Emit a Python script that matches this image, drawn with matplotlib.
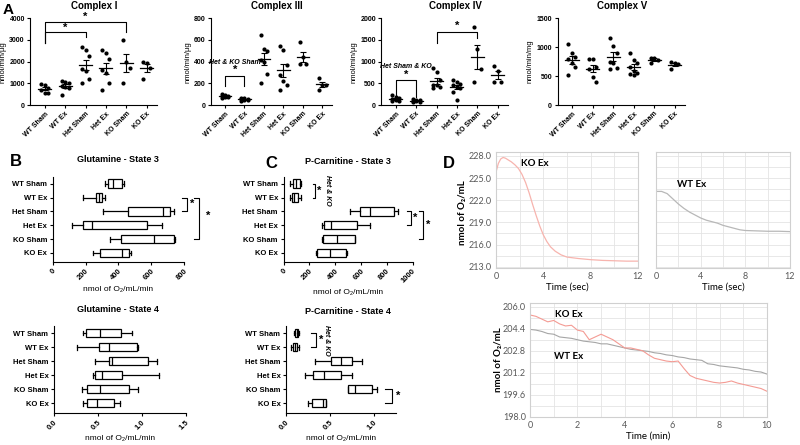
import numpy as np
import matplotlib.pyplot as plt

plt.rcParams['font.family'] = ['Liberation Sans', 'DejaVu Sans']
plt.rcParams['font.weight'] = 'bold'
plt.rcParams['axes.linewidth'] = 0.8

W, H = 800, 445
groups = ['WT Sham', 'WT Ex', 'Het Sham', 'Het Ex', 'KO Sham', 'KO Ex']

# ---- panel A: enzyme activity per animal
complex1 = [[970, 920, 770, 690, 570, 540],
            [1100, 1080, 1000, 880, 850, 770, 460],
            [2690, 2540, 2260, 1650, 1580, 1200, 1030],
            [2540, 2380, 2110, 1620, 1460, 1000, 690],
            [3000, 2000, 1690, 1030],
            [2000, 1950, 1690, 1180]]
complex3 = [[100, 92, 85, 80, 75, 70, 62],
            [68, 62, 58, 55, 50, 45, 40],
            [650, 520, 500, 415, 400, 285, 205],
            [540, 510, 370, 275, 220, 185, 140],
            [580, 445, 375, 375],
            [250, 185, 185, 140]]
complex4 = [[220, 180, 150, 130, 110, 100, 90],
            [140, 120, 110, 100, 90, 80, 75],
            [850, 750, 575, 470, 460, 410, 385],
            [575, 540, 485, 460, 420, 385, 310, 115],
            [1800, 1300, 820, 540],
            [900, 790, 540, 540]]
complex5 = [[1050, 895, 835, 790, 720, 665, 520],
            [790, 790, 665, 620, 490, 405],
            [1165, 1020, 905, 750, 730, 635, 620],
            [905, 770, 730, 665, 595, 560, 535, 520],
            [820, 810, 780, 730],
            [740, 720, 710, 620]]

# ---- panels B/C: box stats [min, q1, median, q3, max]
glut_s3 = [[319, 335, 365, 424, 434], [183, 264, 284, 300, 321],
           [309, 461, 674, 715, 739], [116, 183, 238, 572, 664],
           [349, 414, 619, 741, 745], [248, 288, 420, 467, 475]]
glut_s4 = [[0.33, 0.36, 0.52, 0.76, 0.89], [0.26, 0.51, 0.63, 0.94, 0.96],
           [0.47, 0.63, 0.66, 1.07, 1.17], [0.44, 0.47, 0.54, 0.77, 1.19],
           [0.32, 0.37, 0.52, 0.85, 0.95], [0.33, 0.37, 0.49, 0.68, 0.75]]
pcarn_s3 = [[49, 75, 96, 127, 135], [49, 65, 83, 109, 135],
            [517, 590, 673, 855, 888], [299, 317, 371, 571, 667],
            [299, 309, 415, 551, 558], [252, 257, 364, 486, 491]]
pcarn_s4 = [[0.09, 0.10, 0.12, 0.14, 0.15], [0.06, 0.08, 0.10, 0.13, 0.15],
            [0.33, 0.51, 0.62, 0.75, 0.86], [0.22, 0.31, 0.43, 0.62, 0.75],
            [0.70, 0.71, 0.78, 0.98, 1.03], [0.25, 0.30, 0.42, 0.45, 0.46]]

# ---- panel D: O2 traces
ko_sec = [0, 0.2, 0.4, 0.6, 0.8, 1.0, 1.3, 1.6, 1.9, 2.2, 2.5, 2.8, 3.1, 3.4,
          3.7, 4.0, 4.3, 4.6, 5.0, 5.5, 6.0, 7.0, 8.0, 9.0, 10.0, 11.0, 12.0]
ko_o2 = [225.8, 227.0, 227.6, 227.8, 227.7, 227.5, 227.2, 226.8, 226.3, 225.5,
         224.4, 223.0, 221.4, 219.9, 218.5, 217.3, 216.4, 215.7, 215.1, 214.6,
         214.3, 214.1, 213.95, 213.85, 213.8, 213.75, 213.75]
wt_sec = [0, 0.5, 1.0, 1.5, 2.0, 2.5, 3.0, 3.5, 4.0, 4.5, 5.0, 5.5, 6.0, 6.5,
          7.0, 7.5, 8.0, 9.0, 10.0, 11.0, 12.0]
wt_o2 = [223.2, 223.2, 222.9, 222.2, 221.5, 220.9, 220.4, 220.0, 219.6, 219.3,
         219.1, 218.9, 218.6, 218.4, 218.2, 218.0, 217.9, 217.85, 217.8, 217.8,
         217.75]
mins = [0, 0.25, 0.5, 0.75, 1.0, 1.25, 1.5, 1.75, 2.0, 2.25, 2.5, 2.75, 3.0,
        3.25, 3.5, 3.75, 4.0, 4.25, 4.5, 4.75, 5.0, 5.25, 5.5, 5.75, 6.0, 6.25,
        6.5, 6.75, 7.0, 7.25, 7.5, 7.75, 8.0, 8.25, 8.5, 8.75, 9.0, 9.25, 9.5,
        9.75, 10.0]
ko_min = [205.4, 205.3, 205.1, 204.9, 205.0, 204.75, 204.6, 204.65, 204.3,
          204.2, 203.6, 203.8, 204.0, 203.8, 203.6, 203.3, 203.0, 203.0, 202.9,
          202.8, 202.5, 202.25, 202.15, 202.05, 202.0, 202.05, 201.5, 201.0,
          200.8, 200.7, 200.6, 200.5, 200.45, 200.5, 200.6, 200.45, 200.35,
          200.25, 200.15, 200.05, 199.85]
wt_min = [204.35, 204.3, 204.2, 204.05, 204.0, 203.8, 203.75, 203.7, 203.6,
          203.5, 203.45, 203.4, 203.3, 203.3, 203.2, 203.1, 203.0, 202.9,
          202.85, 202.8, 202.75, 202.65, 202.6, 202.5, 202.45, 202.35, 202.3,
          202.2, 202.15, 202.1, 201.85, 201.8, 201.7, 201.65, 201.6, 201.55,
          201.45, 201.4, 201.3, 201.25, 201.1]

fig = plt.figure(figsize=(8, 4.45), dpi=100)


def px(l, t, r, b):
    return [l / W, 1 - b / H, (r - l) / W, (b - t) / H]


def ftext(x, y, s, **kw):
    fig.text(x / W, 1 - y / H, s, **kw)


def dot_panel(box, vals, ymax, ystep, ylabel):
    ax = fig.add_axes(px(*box))
    for i, v in enumerate(vals):
        v = np.array(v, float)
        spread = (np.arange(len(v)) % 3 - 1) * 0.17
        ax.plot(i + spread, v, 'o', color='k', ms=3.0, mew=0, clip_on=False)
        m = v.mean()
        se = v.std(ddof=1) / np.sqrt(len(v))
        ax.plot([i - 0.32, i + 0.32], [m, m], color='k', lw=0.9)
        ax.errorbar(i, m, yerr=se, color='k', lw=0.8, capsize=2.5, capthick=0.8)
    ax.set_xlim(-0.7, 5.5)
    ax.set_ylim(0, ymax)
    ax.set_yticks(np.arange(0, ymax + 1, ystep))
    ax.set_xticks(range(6))
    ax.set_xticklabels(groups, rotation=45, ha='right', rotation_mode='anchor')
    ax.tick_params(labelsize=5, length=2.5, width=0.8, pad=1.5)
    ax.spines[['top', 'right']].set_visible(False)
    ax.set_ylabel(ylabel, fontsize=5.5, labelpad=2)
    return ax


def box_panel(box, rows, xmax, xticks, ylim):
    ax = fig.add_axes(px(*box))
    stats = [dict(whislo=r[0], q1=r[1], med=r[2], q3=r[3], whishi=r[4], label=g)
             for r, g in zip(rows, groups)]
    lp = dict(color='k', lw=0.9)
    ax.bxp(stats, positions=range(6), orientation='horizontal', widths=0.6,
           showfliers=False, patch_artist=True, capwidths=0.35,
           boxprops=dict(facecolor='white', edgecolor='k', lw=0.9),
           medianprops=lp, whiskerprops=lp, capprops=lp)
    ax.set_xlim(0, xmax)
    ax.set_xticks(xticks)
    ax.set_ylim(*ylim)
    ax.tick_params(labelsize=5.5, length=2.5, width=0.8, pad=1.5)
    plt.setp(ax.get_xticklabels(), rotation=45, ha='right', rotation_mode='anchor')
    ax.spines[['top', 'right']].set_visible(False)
    ax.set_xlabel('nmol of O₂/mL/min', fontsize=6, labelpad=3)
    return ax


def br(ax, xs, ys):
    ax.plot(xs, ys, color='k', lw=0.8, clip_on=False)


def star(ax, x, y, size=8):
    ax.text(x, y, '*', ha='center', va='center', fontsize=size, clip_on=False)


# ---------------- A
a1 = dot_panel((30.4, 18.3, 157, 105), complex1, 4000, 1000, 'nmol/min/µg')
br(a1, [0, 0, 2, 2], [2846, 3354, 3354, 3123])
br(a1, [0, 0, 4, 4], [2846, 3846, 3846, 3385])
star(a1, 1, 3560)
star(a1, 2, 4080)

a3 = dot_panel((211.4, 18.3, 332, 105), complex3, 800, 200, 'nmol/min/µg')
br(a3, [0, 0, 1, 1], [175, 268, 268, 175])
star(a3, 0.5, 325)
a3.text(0.5, 395, 'Het & KO Sham', style='italic', fontsize=5, ha='center', va='center')

a4 = dot_panel((381.4, 18.3, 508, 105), complex4, 2000, 500, 'nmol/min/µg')
br(a4, [0, 0, 1, 1], [190, 577, 577, 190])
star(a4, 0.5, 690)
a4.text(0.5, 890, 'Het Sham & KO', style='italic', fontsize=5, ha='center', va='center')
br(a4, [2, 2, 4, 4], [1423, 1677, 1677, 1550])
star(a4, 3, 1820)

a5 = dot_panel((557.6, 18.3, 685, 105), complex5, 1500, 500, 'nmol/min/mg')

for x, t in [(94, 'Complex I'), (277, 'Complex III'), (455, 'Complex IV'), (622, 'Complex V')]:
    ftext(x, 6, t, fontsize=7, ha='center', va='center')
ftext(3, 10, 'A', fontsize=11, va='center')

# ---------------- B
b3 = box_panel((52.7, 177, 184, 262), glut_s3, 800, [0, 200, 400, 600, 800], (5.65, -0.48))
br(b3, [786, 816, 816, 786], [1, 1, 2, 2])
star(b3, 847, 1.46)
br(b3, [861, 893, 893, 861], [1, 1, 4, 4])
star(b3, 948, 2.3)
ftext(118, 160, 'Glutamine - State 3', fontsize=6.5, ha='center', va='center')

b4 = box_panel((54, 326, 186, 413), glut_s4, 1.5, [0, 0.5, 1.0, 1.5], (5.7, -0.5))
b4.set_xticklabels(['0.0', '0.5', '1.0', '1.5'])
ftext(118, 310, 'Glutamine - State 4', fontsize=6.5, ha='center', va='center')
ftext(10, 162, 'B', fontsize=12, va='center')

# ---------------- C
c3 = box_panel((283.5, 177, 412.5, 262), pcarn_s3, 1000, [0, 200, 400, 600, 800, 1000], (5.65, -0.48))
br(c3, [232, 247, 247, 232], [0, 0, 1, 1])
star(c3, 273, 0.5)
c3.text(343, 0.5, 'Het & KO', style='italic', fontsize=5, rotation=-90, ha='center', va='center')
br(c3, [955, 985, 985, 955], [2, 2, 3, 3])
star(c3, 1023, 2.5)
br(c3, [1050, 1078, 1078, 1050], [2, 2, 4, 4])
star(c3, 1124, 3)
ftext(348, 162, 'P-Carnitine - State 3', fontsize=6.5, ha='center', va='center')

c4 = box_panel((286, 326, 396, 413), pcarn_s4, 1.25, [0, 0.5, 1.0], (5.7, -0.5))
c4.set_xticklabels(['0.0', '0.5', '1.0'])
br(c4, [0.28, 0.34, 0.34, 0.28], [0, 0, 1, 1])
star(c4, 0.405, 0.5)
c4.text(0.46, 0.5, 'Het & KO', style='italic', fontsize=5, rotation=-90, ha='center', va='center')
br(c4, [1.13, 1.2, 1.2, 1.13], [4, 4, 5, 5])
star(c4, 1.28, 4.5)
ftext(348, 312, 'P-Carnitine - State 4', fontsize=6.5, ha='center', va='center')
ftext(265, 163, 'C', fontsize=12, va='center')

# ---------------- D
ftext(443, 163, 'D', fontsize=12, va='center')
dfont = ['Lato', 'DejaVu Sans']


def trace_axes(box, xlim, xt, xminor, ylim, yt, yminor, ylabels=True):
    ax = fig.add_axes(px(*box))
    ax.set_xlim(*xlim)
    ax.set_ylim(*ylim)
    ax.set_xticks(xt)
    ax.set_xticks(xminor, minor=True)
    ax.set_yticks(yt)
    ax.set_yticks(yminor, minor=True)
    ax.grid(which='both', color='#e4e4e4', lw=0.6)
    ax.set_axisbelow(True)
    for s in ax.spines.values():
        s.set_color('#d0d0d0')
    ax.tick_params(which='both', length=0, labelsize=6.5, colors='#595959', pad=3)
    for lab in ax.get_xticklabels() + ax.get_yticklabels():
        lab.set_family(dfont)
        lab.set_weight('normal')
    ax.set_yticklabels(['%.1f' % v for v in yt] if ylabels else [])
    for lab in ax.get_yticklabels():
        lab.set_family(dfont)
        lab.set_weight('normal')
    return ax


ytop = [213, 216, 219, 222, 225, 228]
ytop_minor = [214.5, 217.5, 220.5, 223.5, 226.5]
d1 = trace_axes((496, 152, 638, 268), (0, 12), [0, 4, 8, 12], [2, 6, 10],
                (212.82, 228.54), ytop, ytop_minor)
d1.plot(ko_sec, ko_o2, color='#f7b4ae', lw=0.9)
d1.text(2.1, 227.0, 'KO Ex', family=dfont, fontsize=7, va='center')
d1.set_xlabel('Time (sec)', family=dfont, fontsize=7, labelpad=1)

d2 = trace_axes((656, 152, 790, 268), (0, 12), [0, 4, 8, 12], [2, 6, 10],
                (212.82, 228.54), ytop, ytop_minor, ylabels=False)
d2.plot(wt_sec, wt_o2, color='#b8b8b8', lw=0.9)
d2.text(1.85, 224.1, 'WT Ex', family=dfont, fontsize=7, va='center')
d2.set_xlabel('Time (sec)', family=dfont, fontsize=7, labelpad=1)

ybot = [198.0, 199.6, 201.2, 202.8, 204.4, 206.0]
ybot_minor = [198.8, 200.4, 202.0, 203.6, 205.2]
d3 = trace_axes((530, 303, 767, 417), (0, 10), [0, 2, 4, 6, 8, 10], [1, 3, 5, 7, 9],
                (197.98, 206.27), ybot, ybot_minor)
d3.plot(mins, wt_min, color='#a6a6a6', lw=0.8)
d3.plot(mins, ko_min, color='#f49b94', lw=0.8)
d3.text(1.05, 205.4, 'KO Ex', family=dfont, fontsize=7, va='center')
d3.text(1.0, 202.4, 'WT Ex', family=dfont, fontsize=7, va='center')
d3.set_xlabel('Time (min)', family=dfont, fontsize=7, labelpad=1)

ftext(463, 213, 'nmol of O₂/mL', family=dfont, fontsize=7, rotation=90, ha='center', va='center')
ftext(498, 360, 'nmol of O₂/mL', family=dfont, fontsize=7, rotation=90, ha='center', va='center')

fig.savefig('out.png', dpi=100)
